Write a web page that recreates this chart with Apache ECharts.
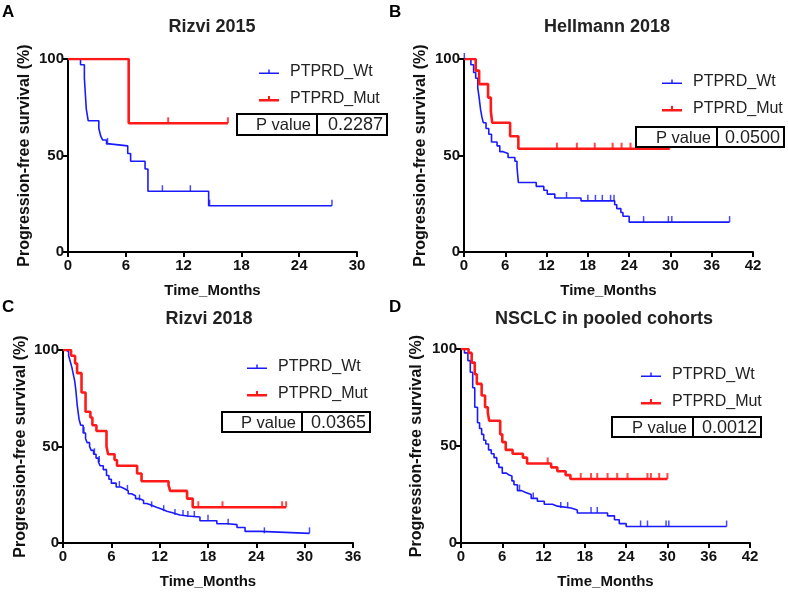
<!DOCTYPE html>
<html><head><meta charset="utf-8">
<script src="https://cdn.jsdelivr.net/npm/echarts@6/dist/echarts.min.js"></script>
<style>html,body{margin:0;padding:0;background:#fff}#c{width:788px;height:593px}</style>
</head><body><div id="c"></div>
<script>
const panelTitles = ['Rizvi 2015', 'Hellmann 2018', 'Rizvi 2018', 'NSCLC in pooled cohorts'];
const panelLetters = ['A', 'B', 'C', 'D'];
const pValues = ['0.2287', '0.0500', '0.0365', '0.0012'];
const xMaxes = [30, 42, 36, 42];
const xInterval = 6;
const yTicks = [0, 50, 100];
const seriesNames = ['PTPRD_Wt', 'PTPRD_Mut'];
const xAxisTitle = 'Time_Months';
const yAxisTitle = 'Progression-free survival (%)';

// Panel A – Rizvi 2015
const aWtTime = [0, 1.3, 1.7, 1.9, 2.1, 3.2, 3.4, 3.6, 4.0, 4.3, 6.2, 6.5, 8.0, 8.3, 14.6, 27.4];
const aWtSurv = [100, 97, 90, 74, 68, 64, 60, 58, 56, 55, 51, 47, 43, 31.5, 24, 24];
const aWtCensor = [4.1, 9.8, 12.7, 14.7, 27.4];
const aMutTime = [0, 6.3, 16.6];
const aMutSurv = [100, 66.7, 66.7];
const aMutCensor = [10.4, 16.6];

// Panel B – Hellmann 2018
const bWtTime = [0, 1.0, 1.4, 1.7, 2.0, 2.2, 2.4, 2.6, 2.8, 3.2, 3.6, 4.0, 4.8, 5.2, 5.7, 6.4, 7.4, 7.7, 7.9, 10.5, 11.6, 12.1, 13.2, 17.0, 21.9, 22.2, 22.8, 23.1, 24.0, 38.6];
const bWtSurv = [100, 97, 93, 90, 85, 80, 74, 70, 67, 64, 61, 57, 55, 52, 51, 49, 47, 44, 36, 34, 32, 30, 28, 26.5, 24.5, 22.5, 20.5, 18.5, 15.5, 15.5];
const bWtCensor = [0.05, 14.9, 18.0, 19.1, 20.1, 21.3, 21.8, 26.1, 29.7, 30.2, 38.6];
const bMutTime = [0, 1.7, 2.2, 3.5, 3.9, 4.1, 6.7, 7.9, 29.9];
const bMutSurv = [100, 94, 87, 80, 73, 67, 60, 53.5, 53.5];
const bMutCensor = [13.5, 16.4, 19.0, 21.6, 22.9, 24.2, 29.9];

// Panel C – Rizvi 2018
const cWtTime = [0, 0.4, 0.7, 0.9, 1.1, 1.3, 1.45, 1.6, 1.75, 1.9, 2.0, 2.2, 2.5, 2.8, 3.0, 3.3, 3.5, 3.8, 4.1, 4.4, 4.6, 5.0, 5.4, 5.7, 6.0, 6.6, 7.2, 7.7, 8.1, 8.5, 9.0, 9.5, 10.0, 10.4, 11.0, 11.6, 12.3, 12.9, 13.7, 14.5, 15.5, 17.0, 19.1, 20.5, 21.6, 22.6, 24.5, 30.6];
const cWtSurv = [100, 99, 97, 94, 91, 87, 84, 79, 72, 67, 64, 61, 57, 54, 52, 50, 48, 46, 44, 42, 40, 38, 35, 33, 31, 29, 28, 27, 25.5, 24.5, 23, 22, 20.5, 19.5, 18.5, 17.5, 16.5, 15.5, 14.5, 14, 13.5, 11.5, 10, 9.5, 8, 6, 5, 5];
const cWtCensor = [2.6, 3.9, 4.5, 7.0, 8.0, 9.5, 11.0, 12.5, 13.9, 14.9, 15.5, 16.3, 18.0, 20.5, 25.0, 30.6];
const cMutTime = [0, 1.0, 1.5, 1.75, 2.3, 2.8, 3.4, 3.65, 4.15, 5.4, 5.6, 6.4, 6.7, 9.2, 9.75, 13.1, 13.3, 15.4, 16.1, 27.7];
const cMutSurv = [100, 97, 93, 88, 78, 68, 65, 61, 58, 50, 46, 43, 40, 36, 32, 30, 27, 23, 18.5, 18.5];
const cMutCensor = [16.8, 19.8, 27.2, 27.7];

// Panel D – NSCLC in pooled cohorts
const dWtTime = [0, 0.5, 1.0, 1.35, 1.7, 2.0, 2.4, 2.7, 3.0, 3.3, 3.6, 4.0, 4.4, 4.8, 5.2, 5.5, 6.0, 6.6, 7.0, 7.4, 7.7, 8.2, 8.8, 9.4, 10.2, 11.1, 12.1, 13.3, 14.0, 16.0, 16.9, 21.3, 22.3, 23.0, 24.0, 38.6];
const dWtSurv = [100, 98, 94, 88, 80, 70, 62, 59, 56, 53, 51, 48, 46, 44, 41, 39, 36, 35, 34.5, 32, 30, 27, 26, 25, 23, 21.5, 20, 19, 18, 17, 15.5, 14, 12, 10, 8.5, 8.5];
const dWtCensor = [8.5, 10.5, 14.5, 15.5, 18.9, 19.8, 26.1, 27.1, 29.8, 30.2, 38.6];
const dMutTime = [0, 1.1, 1.55, 2.0, 2.3, 3.0, 3.5, 3.9, 4.1, 5.7, 6.0, 6.5, 7.5, 9.0, 9.6, 13.1, 14.0, 15.2, 15.9, 30];
const dMutSurv = [100, 98, 93, 87, 82, 76, 70, 67, 63, 56, 52, 48, 46, 44, 41, 39, 37, 35, 33, 33];
const dMutCensor = [12.6, 17.4, 18.9, 19.8, 21.3, 22.7, 24.2, 27.1, 27.6, 28.8, 30];

const panelData = [
  {wt: [aWtTime, aWtSurv, aWtCensor], mut: [aMutTime, aMutSurv, aMutCensor]},
  {wt: [bWtTime, bWtSurv, bWtCensor], mut: [bMutTime, bMutSurv, bMutCensor]},
  {wt: [cWtTime, cWtSurv, cWtCensor], mut: [cMutTime, cMutSurv, cMutCensor]},
  {wt: [dWtTime, dWtSurv, dWtCensor], mut: [dMutTime, dMutSurv, dMutCensor]}
];

// ---- layout (not data) ----
const FONT = '"Liberation Sans", Arial, sans-serif';
const BLUE = '#1a1aff';
const RED = '#ff1a1a';
const grids = [
  {left: 68, top: 59, width: 289, height: 193},
  {left: 464, top: 59, width: 289, height: 193},
  {left: 63, top: 350, width: 290, height: 193},
  {left: 461, top: 349, width: 289, height: 194}
];
const yNameGaps = [35, 35, 34, 36];
const titlePos = [[212, 27], [607, 27], [209, 319], [604, 319]];
const letterPos = [[2, 12], [389, 12], [2, 307], [389, 307]];
const legendPos = [[259, 63], [662, 73], [247, 358], [641, 366]];
const pBox = [
  {x: 237, y: 114, w: 150, h: 21, d: 317},
  {x: 636, y: 127, w: 148, h: 20, d: 717},
  {x: 222, y: 412, w: 148, h: 20, d: 302},
  {x: 612, y: 417, w: 149, h: 20, d: 693}
];

function survAt(times, surv, t) {
  let v = surv[0];
  for (let i = 0; i < times.length; i++) { if (times[i] <= t) v = surv[i]; }
  return v;
}
function zip(a, b) { return a.map((x, i) => [x, b[i]]); }

const series = [];
panelData.forEach((p, i) => {
  [['wt', seriesNames[0], BLUE, 1.6], ['mut', seriesNames[1], RED, 2.6]].forEach(([k, name, col, w]) => {
    const [t, s, c] = p[k];
    series.push({
      type: 'line', name: name, xAxisIndex: i, yAxisIndex: i,
      data: zip(t, s), step: 'end', showSymbol: false, symbol: 'none',
      lineStyle: {color: col, width: w}, itemStyle: {color: col}, silent: true, z: k === 'mut' ? 3 : 2
    });
    series.push({
      type: 'scatter', name: name + ' censored ' + i, xAxisIndex: i, yAxisIndex: i,
      data: c.map(x => [x, survAt(t, s, x)]),
      symbol: 'rect', symbolSize: [k === 'mut' ? 2 : 1.5, 6], symbolOffset: [0, -3],
      itemStyle: {color: col}, silent: true, z: 4
    });
  });
});

const axisLineStyle = {show: true, lineStyle: {color: '#000', width: 2}};
const xAxes = grids.map((g, i) => ({
  type: 'value', gridIndex: i, min: 0, max: xMaxes[i], interval: xInterval,
  axisLine: axisLineStyle, axisTick: {show: true, length: 5, lineStyle: {color: '#000', width: 2}},
  splitLine: {show: false},
  axisLabel: {color: '#111', fontWeight: 'bold', fontSize: 15, fontFamily: FONT, margin: 6},
  name: xAxisTitle, nameLocation: 'middle', nameGap: 31,
  nameTextStyle: {color: '#111', fontWeight: 'bold', fontSize: 15, fontFamily: FONT}
}));
const yAxes = grids.map((g, i) => ({
  type: 'value', gridIndex: i, min: yTicks[0], max: yTicks[2], interval: yTicks[1] - yTicks[0],
  axisLine: axisLineStyle, axisTick: {show: true, length: 5, lineStyle: {color: '#000', width: 2}},
  splitLine: {show: false},
  axisLabel: {color: '#111', fontWeight: 'bold', fontSize: 15, fontFamily: FONT, margin: 4},
  name: yAxisTitle, nameLocation: 'middle', nameGap: yNameGaps[i], nameRotate: 90,
  nameTextStyle: {color: '#111', fontWeight: 'bold', fontSize: 16, fontFamily: FONT}
}));

const iconWt = 'path://M0,4.5L9.3,4.5L9.3,1.5L10.7,1.5L10.7,4.5L20,4.5L20,6L0,6ZM26,0L26,8L26,0Z';
const iconMut = 'path://M0,4L9,4L9,1L11,1L11,4L20,4L20,6.5L0,6.5ZM26,0L26,8L26,0Z';
const legends = legendPos.map(([x, y]) => ({
  left: x, top: y + 1, orient: 'vertical', itemWidth: 26, itemHeight: 8, itemGap: 11,
  padding: 0, selectedMode: false,
  data: [{name: seriesNames[0], icon: iconWt}, {name: seriesNames[1], icon: iconMut}],
  textStyle: {fontSize: 16, color: '#222', fontFamily: FONT}
}));

const graphics = [];
panelTitles.forEach((t, i) => {
  graphics.push({type: 'text', x: titlePos[i][0], y: titlePos[i][1],
    style: {text: t, font: 'bold 18px ' + FONT, fill: '#222', align: 'center', verticalAlign: 'middle'}});
  graphics.push({type: 'text', x: letterPos[i][0], y: letterPos[i][1],
    style: {text: panelLetters[i], font: 'bold 17px ' + FONT, fill: '#000', align: 'left', verticalAlign: 'middle'}});
  const b = pBox[i];
  graphics.push({type: 'rect', shape: {x: b.x, y: b.y, width: b.w, height: b.h},
    style: {fill: '#fff', stroke: '#000', lineWidth: 2}, z: 10});
  graphics.push({type: 'line', shape: {x1: b.d, y1: b.y, x2: b.d, y2: b.y + b.h},
    style: {stroke: '#000', lineWidth: 2}, z: 11});
  graphics.push({type: 'text', x: b.d - 6, y: b.y + b.h / 2 + 1, z: 11,
    style: {text: 'P value', font: '16.5px ' + FONT, fill: '#222', align: 'right', verticalAlign: 'middle'}});
  graphics.push({type: 'text', x: b.x + b.w - 4, y: b.y + b.h / 2 + 1, z: 11,
    style: {text: pValues[i], font: '18px ' + FONT, fill: '#222', align: 'right', verticalAlign: 'middle'}});
});

const chart = echarts.init(document.getElementById('c'), null, {renderer: 'canvas'});
chart.setOption({
  animation: false,
  backgroundColor: '#fff',
  grid: grids.map(g => Object.assign({containLabel: false}, g)),
  xAxis: xAxes, yAxis: yAxes,
  legend: legends,
  series: series,
  graphic: graphics
});
</script></body></html>
